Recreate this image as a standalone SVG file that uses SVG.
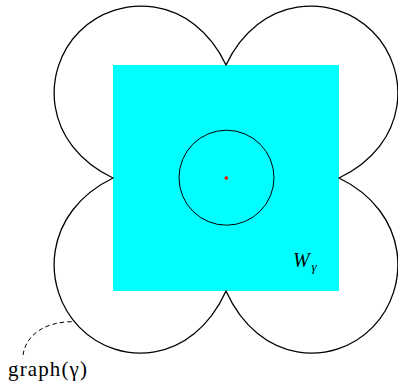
<svg xmlns="http://www.w3.org/2000/svg" width="398" height="385" viewBox="0 0 398 385">
<style>
.curve{fill:none;stroke:#000;stroke-width:1.3}
.thin{fill:none;stroke:#000;stroke-width:1}
.lbl{font-family:"Liberation Serif","Times New Roman",serif;fill:#000}
</style>
<rect width="398" height="385" fill="#fff"/>
<g id="region">
<rect x="113" y="65" width="226" height="226" fill="#00ffff"/>
<text class="lbl" x="293" y="267" font-size="20" font-style="italic">W</text>
<text class="lbl" x="311.5" y="271" font-size="13" font-style="italic">γ</text>
</g>
<g id="circle">
<circle cx="226.5" cy="177.7" r="47.5" class="thin"/>
<circle cx="226.3" cy="178" r="1.8" fill="#ff0000"/>
</g>
<g id="graph">
<path class="curve" d="M226,65 C192.4,-5.5 118.4,-7.4 79.5,31.5 C40.6,70.4 42.5,144.4 113,178 C42.5,212.3 40.6,287.8 79.5,327.4 C118.4,367.1 192.4,365.2 226,291 C259.6,365.2 333.6,367.1 372.5,327.4 C411.4,287.8 409.5,212.3 339,178 C409.5,144.4 411.4,70.4 372.5,31.5 C333.6,-7.4 259.6,-5.5 226,65 Z"/>
<text class="lbl" x="8" y="376" font-size="21" textLength="79" lengthAdjust="spacing">graph(γ)</text>
</g>
<g id="connectors">
<path class="thin" d="M71.7,321.7 C45,322 24,335 22.7,358.3" stroke-width="1.2" stroke-dasharray="4.5,3"/>
</g>
</svg>
